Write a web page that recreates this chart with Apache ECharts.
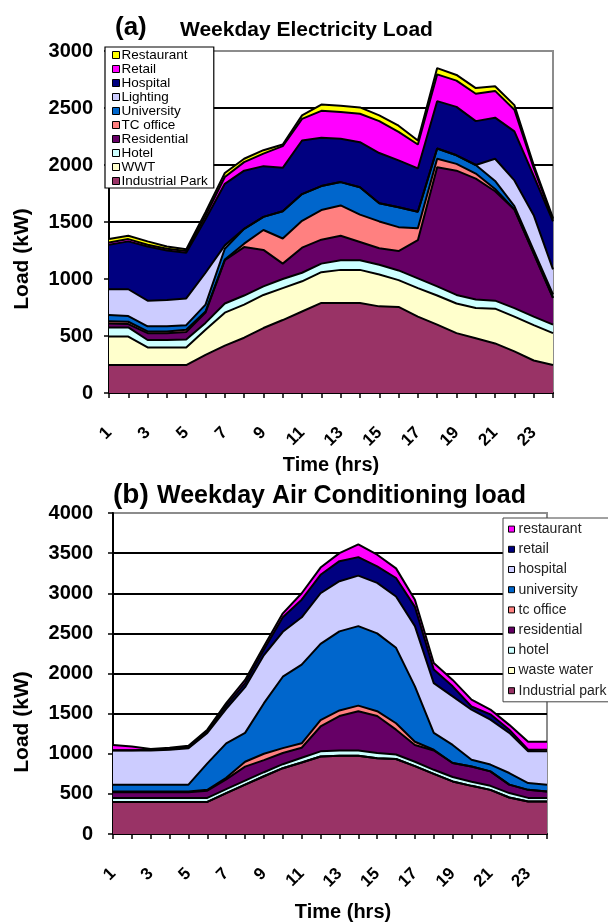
<!DOCTYPE html>
<html>
<head>
<meta charset="utf-8">
<script src="https://cdn.jsdelivr.net/npm/echarts@6/dist/echarts.min.js"></script>
<style>html,body{margin:0;padding:0;background:#fff}#c{width:608px;height:924px}</style>
</head>
<body>
<div id="c"></div>
<script>
// ---------- shared categories ----------
const hours = ['1','2','3','4','5','6','7','8','9','10','11','12','13','14','15','16','17','18','19','20','21','22','23','24'];
const elecTicks = [0, 500, 1000, 1500, 2000, 2500, 3000];
const acTicks = [0, 500, 1000, 1500, 2000, 2500, 3000, 3500, 4000];

// ---------- (a) Weekday Electricity Load (kW), bottom to top ----------
const elecIndustrialPark = [245,245,245,245,245,335,415,485,570,640,715,790,790,790,760,755,670,600,525,480,435,365,285,245];
const elecWWT            = [250,250,155,155,155,220,290,290,290,280,265,270,290,290,280,235,250,255,260,265,305,305,310,280];
const elecHotel          = [80,80,65,65,70,60,80,80,75,80,75,75,85,85,85,85,85,80,75,75,70,75,75,75];
const elecResidential    = [35,30,60,60,65,90,380,425,320,135,220,210,215,160,145,170,335,1045,1090,1060,960,865,555,235];
const elecTCOffice       = [20,20,15,15,20,10,5,30,175,220,235,260,265,240,235,210,105,75,60,45,20,0,0,0];
const elecUniversity     = [55,50,45,45,40,60,95,130,115,240,235,210,205,240,160,175,145,90,75,75,70,30,25,30];
const elecLighting       = [225,235,225,230,235,280,30,0,0,0,0,0,0,0,0,0,0,0,0,0,195,225,310,220];
const elecHospital       = [390,420,475,435,400,470,540,510,445,380,470,425,380,395,440,410,380,415,425,385,360,430,345,420];
const elecRetail         = [20,20,15,15,15,30,60,75,110,190,190,235,235,250,280,250,210,235,230,240,235,190,70,15];
const elecRestaurant     = [30,30,30,20,15,30,35,30,30,15,30,55,55,55,50,55,35,55,50,50,40,40,25,15];

// ---------- (b) Weekday Air Conditioning load (kW), bottom to top ----------
const acIndustrialPark = [400,400,400,400,400,400,510,615,720,820,890,965,975,975,945,935,845,750,655,600,550,455,405,405];
const acWasteWater     = [0,0,0,0,0,0,0,0,0,0,0,0,0,0,0,0,0,0,0,0,0,0,0,0];
const acHotel          = [50,50,50,50,50,50,50,50,50,50,60,65,65,65,65,55,55,50,55,50,50,55,45,45];
const acResidential    = [70,70,70,70,70,90,120,175,150,140,125,310,430,490,460,310,210,240,175,190,180,105,100,80];
const acTCOffice       = [10,10,10,10,10,10,20,60,80,60,55,80,70,70,60,80,40,10,0,0,0,0,0,0];
const acUniversity     = [85,85,85,85,85,330,430,360,630,890,980,950,985,990,970,940,690,210,225,85,85,145,85,85];
const acHospital       = [425,425,425,435,455,380,430,570,600,560,590,630,625,630,630,640,750,620,605,624,561,500,395,415];
const acRetail         = [5,5,10,10,15,20,40,50,70,180,220,230,250,230,205,230,240,170,125,40,65,40,20,20];
const acRestaurant     = [65,45,10,15,15,20,30,40,40,50,80,90,100,160,145,120,90,80,80,85,60,60,100,100];

const FONT = "'Liberation Sans', Arial, sans-serif";

const elecSeries = [
  ['Industrial Park', elecIndustrialPark, '#993366'],
  ['WWT', elecWWT, '#FFFFCC'],
  ['Hotel', elecHotel, '#CCFFFF'],
  ['Residential', elecResidential, '#660066'],
  ['TC office', elecTCOffice, '#FF8080'],
  ['University', elecUniversity, '#0066CC'],
  ['Lighting', elecLighting, '#CCCCFF'],
  ['Hospital', elecHospital, '#000080'],
  ['Retail', elecRetail, '#FF00FF'],
  ['Restaurant', elecRestaurant, '#FFFF00']
];
const acSeries = [
  ['Industrial park', acIndustrialPark, '#993366'],
  ['waste water', acWasteWater, '#FFFFCC'],
  ['hotel', acHotel, '#CCFFFF'],
  ['residential', acResidential, '#660066'],
  ['tc office', acTCOffice, '#FF8080'],
  ['university', acUniversity, '#0066CC'],
  ['hospital', acHospital, '#CCCCFF'],
  ['retail', acRetail, '#000080'],
  ['restaurant', acRestaurant, '#FF00FF']
];

function mkSeries(list, idx, stack) {
  return list.map(([name, data, color]) => ({
    name: name, type: 'line', stack: stack, data: data,
    xAxisIndex: idx, yAxisIndex: idx,
    symbol: 'none', showSymbol: false,
    lineStyle: { color: '#000', width: 2 },
    itemStyle: { color: color },
    areaStyle: { color: color, opacity: 1 },
    emphasis: { disabled: true },
    silent: true
  }));
}

function mkX(idx, margin) {
  return {
    type: 'category', gridIndex: idx, data: hours, boundaryGap: false,
    axisLine: { lineStyle: { color: '#000', width: 2 } },
    axisTick: { show: true, interval: 0, length: 5, lineStyle: { color: '#000', width: 1.5 } },
    axisLabel: { interval: 1, rotate: 45, margin: margin, color: '#000', fontFamily: FONT, fontSize: 17, fontWeight: 'bold' },
    splitLine: { show: false }
  };
}
function mkY(idx, ticks, margin) {
  const n = ticks.length;
  const colors = ticks.map((t, i) => i === n - 1 ? '#8c8c8c' : '#000');
  return {
    type: 'value', gridIndex: idx, min: ticks[0], max: ticks[n - 1], interval: ticks[1] - ticks[0],
    axisLine: { show: true, lineStyle: { color: '#000', width: 2 } },
    axisTick: { show: true, length: 5, lineStyle: { color: '#000', width: 1.5 } },
    axisLabel: { margin: margin, color: '#000', fontFamily: FONT, fontSize: 20, fontWeight: 'bold',
      formatter: v => String(v) },
    splitLine: { show: true, lineStyle: { color: colors, width: 2 } }
  };
}

const chart = echarts.init(document.getElementById('c'), null, { renderer: 'canvas' });
chart.setOption({
  animation: false,
  backgroundColor: '#fff',
  title: [
    { text: '(a)', left: 110, top: 10, textStyle: { fontFamily: FONT, fontSize: 26, fontWeight: 'bold', color: '#000' } },
    { text: 'Weekday Electricity Load', left: 175, top: 15, textStyle: { fontFamily: FONT, fontSize: 21, fontWeight: 'bold', color: '#000' } },
    { text: '(b)', left: 108, top: 476, textStyle: { fontFamily: FONT, fontSize: 28, fontWeight: 'bold', color: '#000' } },
    { text: 'Weekday Air Conditioning load', left: 152, top: 479, textStyle: { fontFamily: FONT, fontSize: 25, fontWeight: 'bold', color: '#000' } }
  ],
  grid: [
    { left: 109, top: 51, width: 444, height: 342, show: true, borderColor: '#8c8c8c', borderWidth: 2, backgroundColor: '#fff' },
    { left: 113, top: 513, width: 434, height: 321, show: true, borderColor: '#8c8c8c', borderWidth: 2, backgroundColor: '#fff' }
  ],
  xAxis: [
    Object.assign(mkX(0, 37), { name: 'Time (hrs)', nameLocation: 'middle', nameGap: 62,
      nameTextStyle: { fontFamily: FONT, fontSize: 20, fontWeight: 'bold', color: '#000' } }),
    Object.assign(mkX(1, 37), { name: 'Time (hrs)', nameLocation: 'middle', nameGap: 68,
      nameTextStyle: { fontFamily: FONT, fontSize: 20, fontWeight: 'bold', color: '#000', padding: [0, 0, 0, 26] } })
  ],
  yAxis: [ mkY(0, elecTicks, 16), mkY(1, acTicks, 20) ],
  legend: [
    {
      data: elecSeries.map(s => s[0]).reverse(),
      orient: 'vertical', left: 105, top: 47,
      backgroundColor: '#fff', borderColor: '#000', borderWidth: 1.2,
      padding: [1, 6, 0, 7], itemGap: 0, itemWidth: 7, itemHeight: 7, icon: 'rect',
      itemStyle: { borderColor: '#000', borderWidth: 1 },
      textStyle: { fontFamily: FONT, fontSize: 13.5, color: '#000', lineHeight: 14, padding: [0, 0, 0, -3] },
      selectedMode: false
    },
    {
      data: acSeries.map(s => s[0]).reverse(),
      orient: 'vertical', left: 503, top: 518,
      backgroundColor: '#fff', borderColor: '#444', borderWidth: 1,
      padding: [1, 6, 1, 5], itemGap: 0, itemWidth: 6, itemHeight: 6, icon: 'rect',
      itemStyle: { borderColor: '#000', borderWidth: 1 },
      textStyle: { fontFamily: FONT, fontSize: 14, color: '#222', lineHeight: 20.2, padding: [0, 0, 0, -1] },
      selectedMode: false
    }
  ],
  graphic: [
    { type: 'text', x: 22, y: 259, rotation: Math.PI / 2, z: 10,
      style: { text: 'Load (kW)', fontFamily: FONT, fontSize: 21, fontWeight: 'bold', fill: '#000', align: 'center', verticalAlign: 'middle' } },
    { type: 'text', x: 22, y: 722, rotation: Math.PI / 2, z: 10,
      style: { text: 'Load (kW)', fontFamily: FONT, fontSize: 21, fontWeight: 'bold', fill: '#000', align: 'center', verticalAlign: 'middle' } }
  ],
  series: mkSeries(elecSeries, 0, 'elec').concat(mkSeries(acSeries, 1, 'ac'))
});
</script>
</body>
</html>
